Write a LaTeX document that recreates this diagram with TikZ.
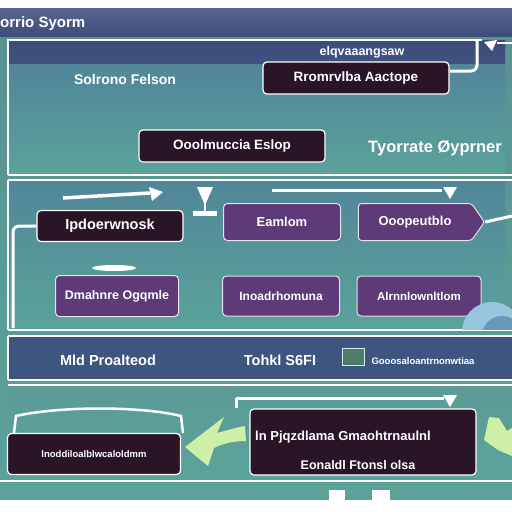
\documentclass[tikz,border=0pt]{standalone}
\usepackage{fontspec}
\setmainfont{Liberation Sans}
\usetikzlibrary{shapes.geometric,shapes.symbols,arrows.meta}
\definecolor{navy}{HTML}{3D4B7B}
\definecolor{navyb}{HTML}{3E5580}
\definecolor{tealtop}{HTML}{4F7F98}
\definecolor{tealbot}{HTML}{5AA39A}
\definecolor{tealmid}{HTML}{5C9A96}
\definecolor{darkbox}{HTML}{2A1527}
\definecolor{purplebox}{HTML}{5E3A78}
\definecolor{lgreen}{HTML}{CDEFA8}
\definecolor{lblue}{HTML}{7FB8D8}
\definecolor{sqgreen}{HTML}{4C7D6A}
\tikzset{
  darkb/.style={draw=white, line width=1.2pt, fill=darkbox, rounded corners=4pt, text=white, font=\fontsize{13.5}{15}\selectfont\bfseries, inner sep=2pt},
  purpb/.style={draw=white!85!purplebox, line width=1pt, fill=purplebox, rounded corners=4pt, text=white, font=\fontsize{13}{15}\selectfont\bfseries, inner sep=2pt},
  lbl/.style={text=white, font=\fontsize{14}{16}\selectfont\bfseries, inner sep=0pt},
  wline/.style={draw=white, line width=2pt},
  conn/.style={draw=white, line width=3pt, rounded corners=6pt}
}
\begin{document}
\begin{tikzpicture}[x=1pt,y=-1pt]
\useasboundingbox (0,0) rectangle (512,512);
% base
\fill[white] (0,0) rectangle (512,512);
\shade[top color=navy!85!white, bottom color=navy] (0,8) rectangle (512,37);
\shade[top color=tealmid!90!navy, bottom color=tealbot] (0,37) rectangle (512,500);
% panel 1
\shade[top color=tealtop, bottom color=tealbot] (8,40) rectangle (505,175);
\shade[top color=navy, bottom color=navy!85!tealtop] (8,40) rectangle (505,63);
\draw[wline] (8,175) -- (8,40) -- (482,40);
\draw[wline] (497,43) -- (512,43);
\draw[wline] (8,175) -- (512,175);
% panel 2
\shade[top color=tealtop!80!tealbot, bottom color=tealbot] (8,180) rectangle (505,330);
\draw[wline] (8,180) -- (512,180);
\draw[wline] (8,330) -- (512,330);
\draw[wline] (8,180) -- (8,330);
% band
\fill[navyb] (8,336) rectangle (512,380);
\draw[wline] (8,336) -- (512,336);
\draw[wline] (8,380) -- (512,380);
\draw[wline] (8,336) -- (8,380);
% panel 3
\shade[top color=tealmid, bottom color=tealbot] (8,385) rectangle (512,480);
\draw[wline] (8,385) -- (512,385);
\draw[wline] (0,481) -- (512,481);
\fill[white] (0,500) rectangle (512,512);
\fill[white] (329,490) rectangle (345,500);
\fill[white] (372,490) rectangle (390,500);

% header
\node[text=white, font=\fontsize{15}{17}\selectfont\bfseries, anchor=west, inner sep=0pt] (title) at (0,24) {orrio Syorm};

% panel 1 content
\node[lbl] (l1) at (125,79) {Solrono Felson};
\node[text=white, font=\fontsize{12.5}{14}\selectfont\bfseries, inner sep=0pt] (l2) at (362,52) {elqvaaangsaw};
\node[darkb, minimum width=186pt, minimum height=32pt] (b1) at (356,78) {Rromrvlba Aactope};
\node[darkb, minimum width=186pt, minimum height=32pt] (b2) at (232,146) {Ooolmuccia Eslop};
\node[lbl, font=\fontsize{16.5}{18}\selectfont\bfseries] (l3) at (435,148) {Tyorrate Øyprner};
\coordinate (t1) at (477,40);
\draw[conn] ([yshift=7pt]b1.east) -| (t1);
\fill[white] (484,42) -- (497,40) -- (492,51) -- cycle;

% panel 2 content
\node[darkb, minimum width=146pt, minimum height=31pt, font=\fontsize{14.5}{16}\selectfont\bfseries] (b3) at (110,226) {Ipdoerwnosk};
\coordinate (c3) at (13,328);
\draw[conn] (b3.west) -| (c3);
\coordinate (a1) at (63,198);
\coordinate (a2) at (150,193);
\draw[draw=white, line width=3.5pt] (a1) -- (a2);
\fill[white] (149,187) -- (163,192) -- (152,201) -- cycle;
% T glyph
\fill[white] (197,187) -- (213,187) -- (206,203) -- (204,203) -- cycle;
\fill[white] (204,202) rectangle (206,212);
\fill[white] (193,211) rectangle (217,216);
\node[purpb, minimum width=117pt, minimum height=37pt] (b4) at (282,222) {Eamlom};
\node[purpb, signal, signal to=east, signal pointer angle=110, minimum width=126pt, minimum height=37pt, rounded corners=3pt] (b5) at (415,222) {Ooopeutblo};
\coordinate (c5) at (512,216);
\draw[conn] (b5.east) -- (c5);
\coordinate (d1) at (272,190);
\coordinate (d2) at (442,190);
\draw[wline, line width=3pt] (d1) -- (d2);
\fill[white] (443,187) -- (457,187) -- (450,199) -- cycle;
\node[ellipse, fill=white, minimum width=44pt, minimum height=6pt, inner sep=0pt] (pill) at (114,268) {};
\node[purpb, minimum width=123pt, minimum height=41pt, font=\fontsize{12.5}{14}\selectfont\bfseries] (b6) at (117,296) {Dmahnre Ogqmle};
\node[purpb, minimum width=117pt, minimum height=40pt, font=\fontsize{12}{14}\selectfont\bfseries] (b7) at (281,296) {Inoadrhomuna};
\node[purpb, minimum width=124pt, minimum height=40pt, font=\fontsize{11.5}{14}\selectfont\bfseries] (b8) at (419,296) {Alrnnlownltlom};
\begin{scope}
\clip (440,280) rectangle (512,329);
\fill[lblue!80!white] (492,332) circle (30pt);
\fill[lblue!70!navy] (502,336) circle (20pt);
\end{scope}

% band content
\node[lbl, font=\fontsize{14.5}{16}\selectfont\bfseries] (l4) at (108,360) {Mld Proalteod};
\node[lbl, font=\fontsize{14.5}{16}\selectfont\bfseries] (l5) at (280,360) {Tohkl S6FI};
\node[draw=white!80!sqgreen, line width=1pt, fill=sqgreen, minimum width=22pt, minimum height=17pt, inner sep=0pt] (sq) at (353,357) {};
\node[text=white, font=\fontsize{9.5}{11}\selectfont\bfseries, inner sep=0pt] (l6) at (423,361) {Gooosaloantrnonwtiaa};

% panel 3 content
\draw[white, line width=2.5pt] (14,433) -- (16,416) .. controls (60,406) and (140,406) .. (181,416) -- (183,433);
\node[darkb, minimum width=173pt, minimum height=41pt, font=\fontsize{9.5}{11}\selectfont\bfseries] (b9) at (94,454) {lnoddiloalblwcaloldmm};
\node[darkb, minimum width=226pt, minimum height=66pt] (b10) at (363,442) {};
\node[text=white, font=\fontsize{13}{15}\selectfont\bfseries, inner sep=0pt] (b10a) at (343,437) {ln Pjqzdlama Gmaohtrnaulnl};
\node[text=white, font=\fontsize{12.5}{15}\selectfont\bfseries, inner sep=0pt] (b10b) at (358,465) {Eonaldl Ftonsl olsa};
% green arrows
\fill[lgreen] (185,447) -- (224,417) -- (217,433) .. controls (228,430) and (238,427) .. (245,426) -- (246,441) .. controls (232,441) and (222,444) .. (214,448) -- (208,466) -- cycle;
\fill[lgreen] (484,440) -- (489,417) -- (499,418) -- (507,431) -- (512,428) -- (512,456) -- (498,450) -- cycle;
\coordinate (e1) at (236,398);
\coordinate (e2) at (444,398);
\draw[wline, line width=3pt] (e1) -- (e2);
\draw[wline, line width=3pt] (e1) -- (236,408);
\fill[white] (443,395) -- (457,395) -- (450,407) -- cycle;
\end{tikzpicture}
\end{document}
